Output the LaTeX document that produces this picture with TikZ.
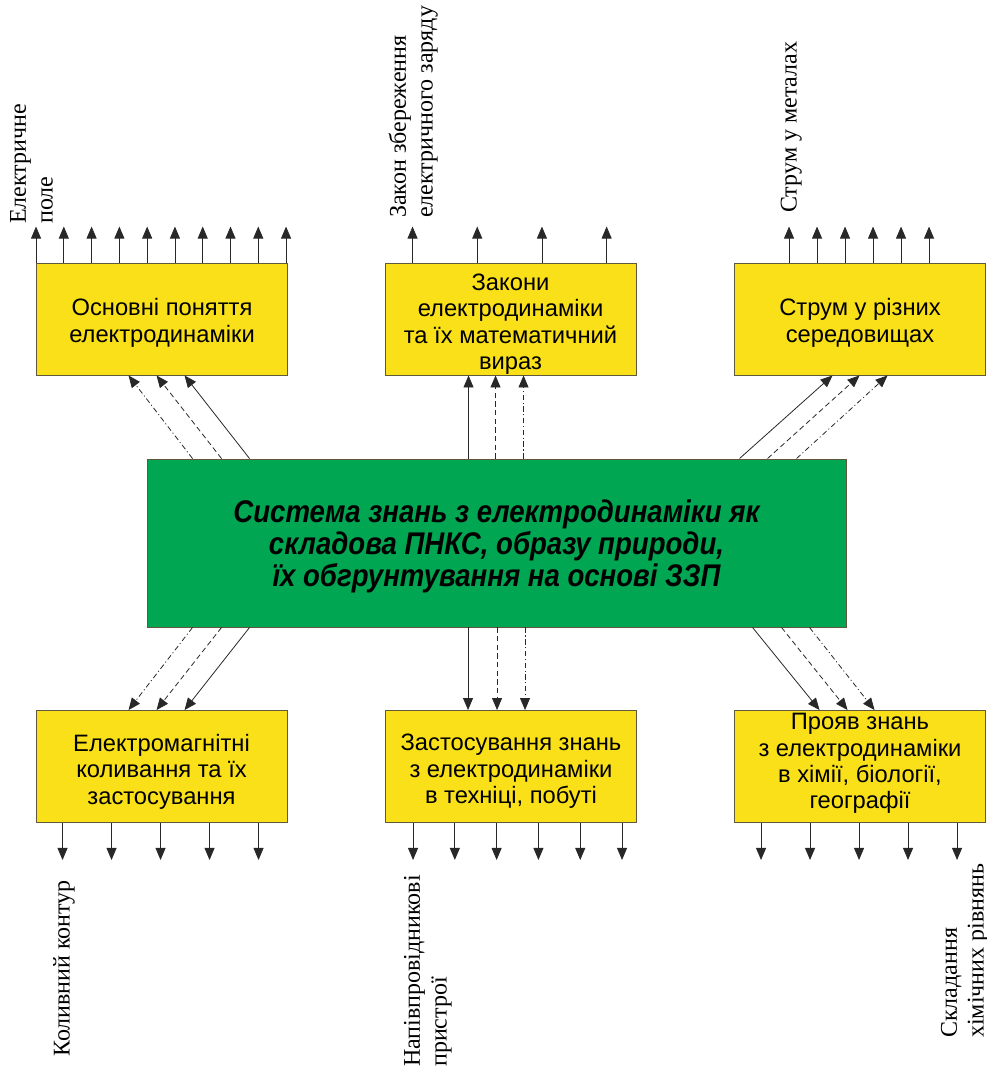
\documentclass[tikz,border=0pt]{standalone}
\usepackage{fontspec}
\setmainfont{Liberation Serif}
\newfontfamily\boxfont{Liberation Sans}
\newfontfamily\headfont[FakeStretch=0.88]{Liberation Sans}
\usetikzlibrary{arrows.meta,calc}
\definecolor{boxyellow}{RGB}{250,224,25}
\definecolor{coregreen}{RGB}{0,166,81}
\definecolor{rim}{RGB}{95,90,60}
\definecolor{wire}{RGB}{40,40,40}

\begin{document}
\begin{tikzpicture}[x=0.75pt,y=-0.75pt,
  topic/.style={draw=rim, line width=0.7pt, fill=boxyellow,
    minimum width=188.25pt, minimum height=84pt, inner sep=0pt},
  topictext/.style={inner sep=0pt, align=center,
    font=\boxfont\fontsize{17.8}{19.8}\selectfont},
  core/.style={draw=rim, line width=0.7pt, fill=coregreen,
    minimum width=524.25pt, minimum height=126pt, inner sep=0pt},
  coretext/.style={inner sep=0pt, align=center,
    font=\headfont\bfseries\itshape\fontsize{23.5}{24}\selectfont},
  arr/.style={draw=wire, line width=0.6pt, -{Triangle[length=9pt,width=7.5pt]}},
  dsh/.style={arr, dash pattern=on 4pt off 2.5pt},
  ddot/.style={arr, dash pattern=on 4pt off 2pt on 0.8pt off 2pt},
  vlab/.style={rotate=90, inner sep=0pt, align=left,
    font=\fontsize{18}{20}\selectfont}
]
\useasboundingbox (0,0) rectangle (987,1070);

% yellow topic boxes
\node[topic] (B1) at (162,319)     {};
\node[topic] (B2) at (510.5,319)   {};
\node[topic] (B3) at (860,319)     {};
\node[topic] (D1) at (161.5,766.5) {};
\node[topic] (D2) at (511,766.5)   {};
\node[topic] (D3) at (860,766.5)   {};

\node[topictext] (B1t) at ($(B1.center)+(0,4)$)  {Основні поняття\\електродинаміки};
\node[topictext] (B2t) at ($(B2.center)+(0,5)$)  {Закони\\електродинаміки\\та їх математичний\\вираз};
\node[topictext] (B3t) at ($(B3.center)+(0,4)$)  {Струм у різних\\середовищах};
\node[topictext] (D1t) at ($(D1.center)+(0,5)$)  {Електромагнітні\\коливання та їх\\застосування};
\node[topictext] (D2t) at ($(D2.center)+(0,5)$)  {Застосування знань\\з електродинаміки\\в техніці, побуті};
\node[topictext] (D3t) at ($(D3.center)+(0,-3)$) {Прояв знань\\з електродинаміки\\в хімії, біології,\\географії};

% central box
\node[core] (G) at (496.5,543) {};
\node[coretext] (Gt) at ($(G.center)+(0,3)$) {Система знань з електродинаміки як\\складова ПНКС, образу природи,\\їх обгрунтування на основі ЗЗП};

% outgoing arrows above the upper boxes
\foreach \i in {0,...,9} {
  \coordinate (u1-\i) at ($(B1.north west)+(\i*27.78,-36)$);
  \draw[arr] (u1-\i |- B1.north) -- (u1-\i);
}
\foreach \i in {0,...,3} {
  \coordinate (u2-\i) at ($(B2.north west)+(28+\i*64.7,-36)$);
  \draw[arr] (u2-\i |- B2.north) -- (u2-\i);
}
\foreach \i in {0,...,5} {
  \coordinate (u3-\i) at ($(B3.north west)+(55+\i*28,-36)$);
  \draw[arr] (u3-\i |- B3.north) -- (u3-\i);
}

% outgoing arrows below the lower boxes
\foreach \i in {0,...,4} {
  \coordinate (d1-\i) at ($(D1.south west)+(27+\i*49,37)$);
  \draw[arr] (d1-\i |- D1.south) -- (d1-\i);
}
\foreach \i in {0,...,5} {
  \coordinate (d2-\i) at ($(D2.south west)+(28+\i*41.8,37)$);
  \draw[arr] (d2-\i |- D2.south) -- (d2-\i);
}
\foreach \i in {0,...,4} {
  \coordinate (d3-\i) at ($(D3.south west)+(27+\i*49,37)$);
  \draw[arr] (d3-\i |- D3.south) -- (d3-\i);
}

% links from the central box to the upper boxes
\draw[arr]  ($(G.north west)+(103,0)$) -- ($(B1.south west)+(148.5,0)$);
\draw[dsh]  ($(G.north west)+(75,0)$)  -- ($(B1.south west)+(120.5,0)$);
\draw[ddot] ($(G.north west)+(46,0)$)  -- ($(B1.south west)+(92.5,0)$);

\coordinate (m1) at ($(B2.south west)+(84,0)$);
\coordinate (m2) at ($(B2.south west)+(111,0)$);
\coordinate (m3) at ($(B2.south west)+(139,0)$);
\draw[arr]  (m1 |- G.north) -- (m1);
\draw[dsh]  (m2 |- G.north) -- (m2);
\draw[ddot] (m3 |- G.north) -- (m3);

\draw[arr]  ($(G.north west)+(593,0)$) -- ($(B3.south west)+(98.5,0)$);
\draw[dsh]  ($(G.north west)+(621,0)$) -- ($(B3.south west)+(125.5,0)$);
\draw[ddot] ($(G.north west)+(650,0)$) -- ($(B3.south west)+(153.5,0)$);

% links from the central box to the lower boxes
\draw[arr]  ($(G.south west)+(103,0)$) -- ($(D1.north west)+(149,0)$);
\draw[dsh]  ($(G.south west)+(75,0)$)  -- ($(D1.north west)+(121,0)$);
\draw[ddot] ($(G.south west)+(46,0)$)  -- ($(D1.north west)+(93,0)$);

\coordinate (n1) at ($(D2.north west)+(83,0)$);
\coordinate (n2) at ($(D2.north west)+(112,0)$);
\coordinate (n3) at ($(D2.north west)+(140,0)$);
\draw[arr]  (n1 |- G.south) -- (n1);
\draw[dsh]  (n2 |- G.south) -- (n2);
\draw[ddot] (n3 |- G.south) -- (n3);

\draw[arr]  ($(G.south west)+(606,0)$) -- ($(D3.north west)+(85.5,0)$);
\draw[dsh]  ($(G.south west)+(635,0)$) -- ($(D3.north west)+(113.5,0)$);
\draw[ddot] ($(G.south west)+(663,0)$) -- ($(D3.north west)+(140.5,0)$);

% rotated captions
\node[vlab, anchor=south west] (L1) at (53,224)  {Електричне\\поле};
\node[vlab, anchor=south west] (L2) at (438,218) {Закон збереження\\електричного заряду};
\node[vlab, anchor=south west] (L3) at (802,213) {Струм у металах};
\node[vlab, anchor=south west] (L4) at (75,1057)  {Коливний контур};
\node[vlab, anchor=south west] (L5) at (452,1067) {Напівпровідникові\\пристрої};
\node[vlab, anchor=south west] (L6) at (989,1038) {Складання\\хімічних рівнянь};
\end{tikzpicture}
\end{document}
